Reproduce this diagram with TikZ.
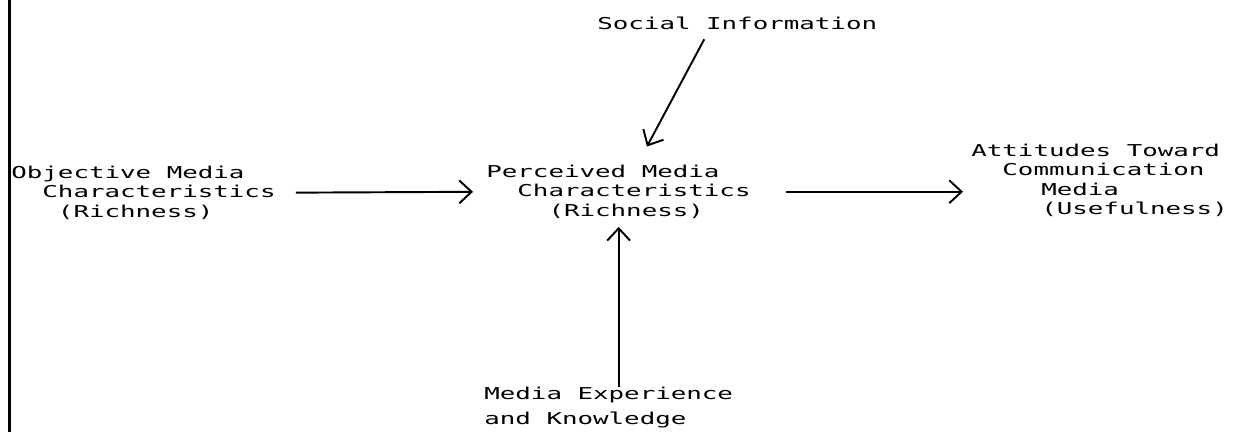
\documentclass[tikz,border=0pt]{standalone}
\usepackage{fontspec}
\newfontfamily\typefont[FakeStretch=1.58]{DejaVu Sans Mono}
\usetikzlibrary{calc,arrows.meta}
\newlength\cw
\AtBeginDocument{\settowidth\cw{\typefont\fontsize{9.3pt}{11.1pt}\selectfont M}}
\newcommand\indnt[1]{\hspace*{#1\cw}}
\tikzset{
  typed/.style = {inner sep=0pt, anchor=north west, align=left,
    font=\typefont\fontsize{9.3pt}{11.1pt}\selectfont},
  barb/.style = {line width=1.1pt, -{Straight Barb[length=7pt,width=13pt]}}
}

\begin{document}
\begin{tikzpicture}[x=0.02cm, y=-0.02cm]
  \useasboundingbox (0,0) rectangle (1235,432);
  % frame line
  \path[draw, line width=1.2pt](9.5,0)to(9.5,432);
  % objective media
  \node[typed](objective)at(11,165.6){Objective Media\\\indnt{2}Characteristics\\\indnt{3}(Richness)};
  % perceived media
  \node[typed](perceived)at(486,164.6){Perceived Media\\\indnt{2}Characteristics\\\indnt{4}(Richness)};
  % attitudes
  \node[typed](attitudes)at(971,143.6){Attitudes Toward\\\indnt{2}Communication\\\indnt{4.5}Media\\\indnt{4.5}(Usefulness)};
  % social information
  \node[typed](social)at(597,16.6){Social Information};
  % experience
  \node[typed, font=\typefont\fontsize{9.3pt}{14.2pt}\selectfont](experience)at(484,386.6){Media Experience\\and Knowledge};
  % arrows
  \draw[barb, shorten <=0.4cm, shorten >=0.26cm](objective.east)--(perceived.west);
  \draw[barb, shorten <=0.7cm, shorten >=0.16cm](perceived.east)--(perceived.east -| attitudes.west);
  \draw[barb, shorten <=0.21cm, shorten >=0.41cm]($(social.south west)!0.4!(social.south east)$)--($(perceived.north west)!0.571!(perceived.north east)$);
  \coordinate(expTop)at($(experience.north west)!0.54!(experience.north east)$);
  \draw[barb, shorten >=0.16cm](expTop)--(expTop |- perceived.south);
\end{tikzpicture}
\end{document}
